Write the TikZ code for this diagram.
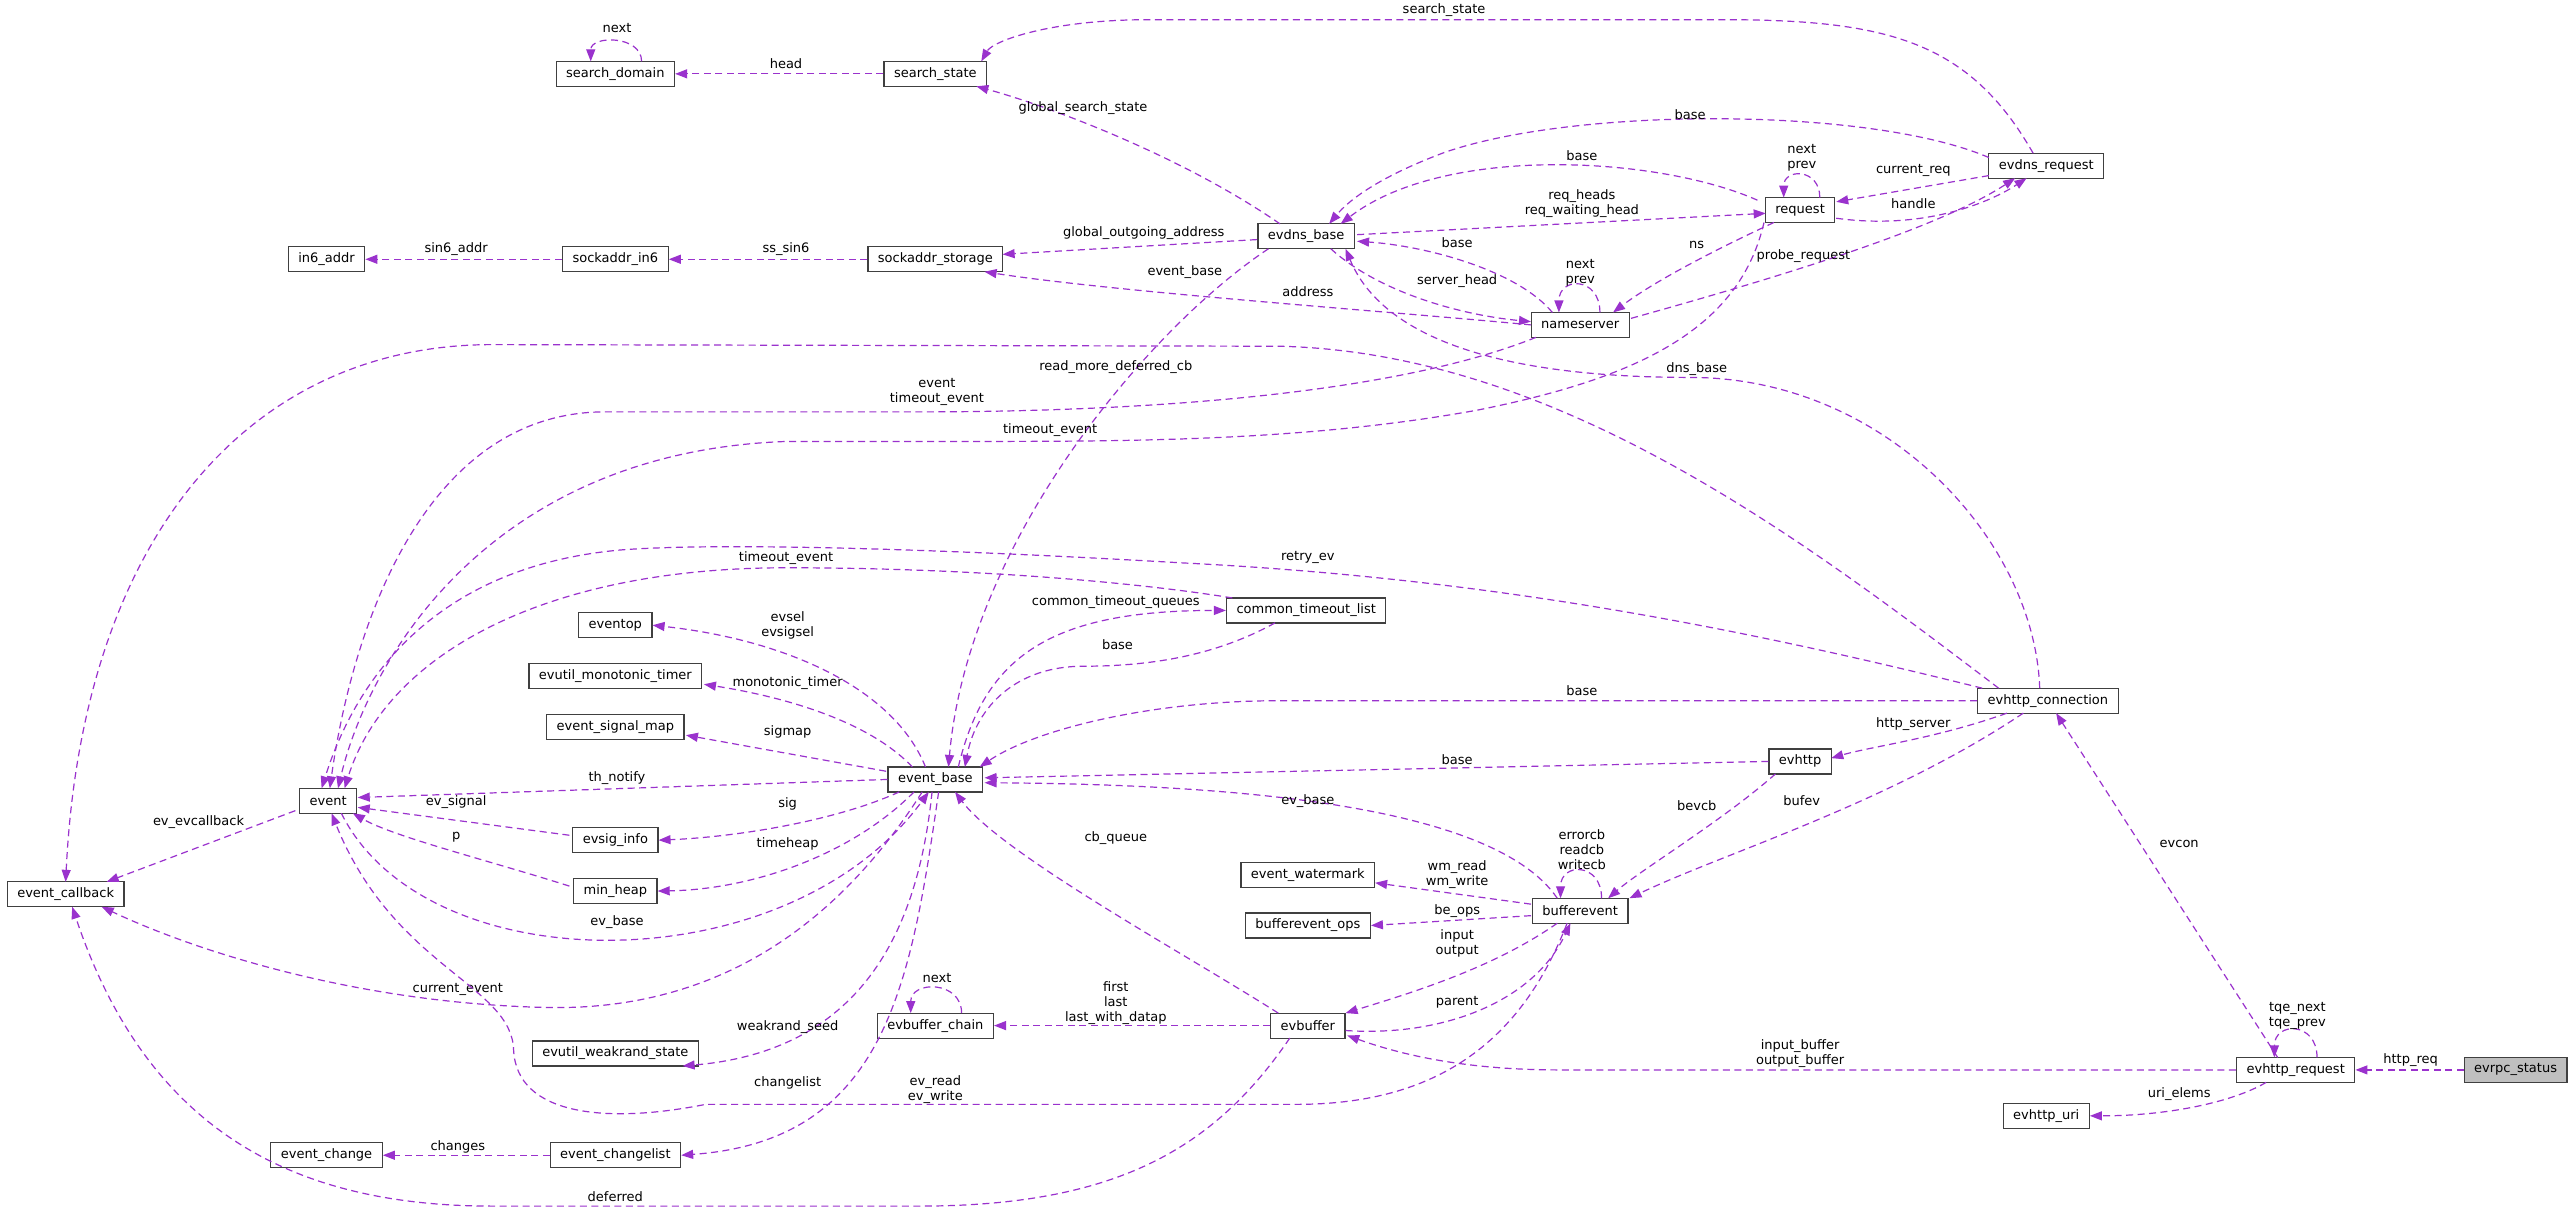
\documentclass[tikz,border=0pt]{standalone}
\usepackage{fontspec}
\setmainfont{DejaVu Sans}
\usetikzlibrary{arrows.meta,calc}
\definecolor{ec}{HTML}{9A32CD}
\begin{document}
\begin{tikzpicture}[x=1.641pt,y=-1.641pt,
  box/.style={draw=black!75,line width=1.2pt,fill=white,minimum height=25pt,inner xsep=10pt,inner ysep=0pt,font=\fontsize{13pt}{15pt}\selectfont},
  e/.style={draw=ec,line width=1.2pt,dash pattern=on 7pt off 4.5pt,-{Triangle[length=12pt,width=9pt]}},
  l/.style={font=\fontsize{13pt}{15pt}\selectfont,align=center,inner sep=0pt,text=black}]
\path[use as bounding box,fill=white] (0,0) rectangle (1568,739.2);
% nodes
\node[box] (sd) at (375,45) {search\_domain};
\node[box] (ss) at (570,45) {search\_state};
\node[box] (edb) at (796,144) {evdns\_base};
\node[box] (req) at (1097,128) {request};
\node[box] (edr) at (1247,101) {evdns\_request};
\node[box] (in6) at (199,158) {in6\_addr};
\node[box] (sin6) at (375,158) {sockaddr\_in6};
\node[box] (sst) at (570,158) {sockaddr\_storage};
\node[box] (ns) at (963,198) {nameserver};
\node[box] (ecb) at (40,545) {event\_callback};
\node[box] (ev) at (200,488) {event};
\node[box] (eop) at (375,381) {eventop};
\node[box] (emt) at (375,412) {evutil\_monotonic\_timer};
\node[box] (esm) at (375,443) {event\_signal\_map};
\node[box] (eb) at (570,475) {event\_base};
\node[box] (esi) at (375,512) {evsig\_info};
\node[box] (mh) at (375,543) {min\_heap};
\node[box] (ews) at (375,642) {evutil\_weakrand\_state};
\node[box] (ech) at (199,704) {event\_change};
\node[box] (ecl) at (375,704) {event\_changelist};
\node[box] (ctl) at (796,372) {common\_timeout\_list};
\node[box] (ehc) at (1248,427) {evhttp\_connection};
\node[box] (eh) at (1097,464) {evhttp};
\node[box] (ewm) at (797,533) {event\_watermark};
\node[box] (be) at (963,555) {bufferevent};
\node[box] (bo) at (797,564) {bufferevent\_ops};
\node[box] (ebc) at (570,625) {evbuffer\_chain};
\node[box] (ebf) at (797,625) {evbuffer};
\node[box] (ehr) at (1399,652) {evhttp\_request};
\node[box,fill=black!25] (ers) at (1533,652) {evrpc\_status};
\node[box] (uri) at (1247,680) {evhttp\_uri};
% edges
\draw[e] ($(sd)+(16,-7.6)$) .. controls +(0,-16) and +(0,-16) .. ($(sd)+(-15,-7.6)$) node[l,at={(376,17)}]{next};
\draw[e] (ss.west) -- (sd.east) node[l,at={(479,39)}]{head};
\draw[e] ($(edb)+(-16,-7.6)$) .. controls (720,95) and (640,65) .. ($(ss)+(25,7.6)$) node[l,at={(660,66)}]{global\_search\_state};
\draw[e] ($(edr)+(-8,-7.6)$) .. controls (1200,25) and (1150,12) .. (1050,12) -- (700,12) .. controls (640,12) and (605,25) .. ($(ss)+(28,-7.6)$) node[l,at={(880,6)}]{search\_state};
\draw[e] ($(edr)+(-35,-5)$) .. controls (1140,65) and (960,65) .. (880,93) .. controls (840,108) and (822,122) .. ($(edb)+(14,-7.6)$) node[l,at={(1030,70)}]{base};
\draw[e] ($(req)+(-26,-6)$) .. controls (1010,95) and (880,88) .. ($(edb)+(21,-7.6)$) node[l,at={(964,95)}]{base};
\draw[e] ($(edb)+(31,-1)$) -- ($(req)+(-21,2)$) node[l,at={(964,124)}]{req\_heads\\req\_waiting\_head};
\draw[e] ($(req)+(12,-7.6)$) .. controls +(0,-18) and +(0,-18) .. ($(req)+(-10,-7.6)$) node[l,at={(1098,96)}]{next\\prev};
\draw[e] ($(edr)+(-35,6)$) -- ($(req)+(22,-5)$) node[l,at={(1166,104)}]{current\_req};
\draw[e] ($(req)+(22,5)$) .. controls (1170,140) and (1210,125) .. ($(edr)+(-12,7.6)$) node[l,at={(1166,124)}]{handle};
\draw[e] ($(ns)+(31,-4)$) .. controls (1080,170) and (1180,140) .. ($(edr)+(-19,7.6)$) node[l,at={(1099,156)}]{probe\_request};
\draw[e] ($(req)+(-16,7.6)$) .. controls (1050,150) and (1010,170) .. ($(ns)+(20,-7.6)$) node[l,at={(1034,149)}]{ns};
\draw[e] ($(ns)+(-17,-7.6)$) .. controls (925,165) and (870,150) .. ($(edb)+(31,3)$) node[l,at={(888,148)}]{base};
\draw[e] ($(edb)+(15,7.6)$) .. controls (840,178) and (890,192) .. ($(ns)+(-30,-2)$) node[l,at={(888,171)}]{server\_head};
\draw[e] ($(ns)+(12,-7.6)$) .. controls +(0,-22) and +(0,-22) .. ($(ns)+(-13,-7.6)$) node[l,at={(963,166)}]{next\\prev};
\draw[e] ($(edb)+(-30,2)$) -- ($(sst)+(41,-3)$) node[l,at={(697,142)}]{global\_outgoing\_address};
\draw[e] ($(ns)+(-30,0)$) .. controls (850,190) and (680,178) .. ($(sst)+(30,7.6)$) node[l,at={(797,178)}]{address};
\draw[e] (sst.west) -- (sin6.east) node[l,at={(479,152)}]{ss\_sin6};
\draw[e] (sin6.west) -- (in6.east) node[l,at={(278,152)}]{sin6\_addr};
\draw[e] ($(edb)+(-23,7.6)$) .. controls (700,200) and (590,330) .. ($(eb)+(8,-7.6)$) node[l,at={(722,166)}]{event\_base};
\draw[e] ($(ns)+(-27,7.6)$) .. controls (850,240) and (700,251) .. (560,251) -- (370,251) .. controls (260,250) and (215,380) .. ($(ev)+(1,-7.6)$) node[l,at={(571,239)}]{event\\timeout\_event};
\draw[e] ($(req)+(-22,7.6)$) .. controls (1060,200) and (1000,230) .. (900,250) .. controls (800,268) and (700,269) .. (600,269) -- (480,269) .. controls (300,275) and (225,400) .. ($(ev)+(6,-7.6)$) node[l,at={(640,262)}]{timeout\_event};
\draw[e] ($(ehc)+(-5,-7.6)$) .. controls (1240,330) and (1150,230) .. (1030,230) .. controls (900,230) and (840,200) .. ($(edb)+(24,7.6)$) node[l,at={(1034,225)}]{dns\_base};
\draw[e] ($(ehc)+(-30,-7.6)$) .. controls (1100,330) and (950,215) .. (780,211) -- (300,210) .. controls (150,210) and (50,330) .. ($(ecb)+(0,-7.6)$) node[l,at={(680,224)}]{read\_more\_deferred\_cb};
\draw[e] ($(ehc)+(-40,-7.6)$) .. controls (1050,380) and (900,352) .. (720,343) .. controls (600,336) and (450,330) .. (380,335) .. controls (260,345) and (215,420) .. ($(ev)+(-4,-7.6)$) node[l,at={(797,340)}]{retry\_ev};
\draw[e] ($(ctl)+(-45,-7.6)$) .. controls (700,356) and (600,346) .. (479,346) .. controls (330,346) and (235,400) .. ($(ev)+(10,-7.6)$) node[l,at={(479,340)}]{timeout\_event};
\draw[e] ($(eb)+(14,-7.6)$) .. controls (600,400) and (640,372) .. (ctl.west) node[l,at={(680,367)}]{common\_timeout\_queues};
\draw[e] ($(ctl)+(-19,7.6)$) .. controls (740,400) and (700,406) .. (660,406) .. controls (620,406) and (595,430) .. ($(eb)+(18,-7.6)$) node[l,at={(681,393)}]{base};
\draw[e] ($(eb)+(-6,-7.6)$) .. controls (545,420) and (480,390) .. (eop.east) node[l,at={(480,381)}]{evsel\\evsigsel};
\draw[e] ($(eb)+(-14,-7.6)$) .. controls (530,440) and (480,425) .. ($(emt)+(54,5)$) node[l,at={(480,416)}]{monotonic\_timer};
\draw[e] ($(eb)+(-30,-5)$) -- ($(esm)+(43,5)$) node[l,at={(480,446)}]{sigmap};
\draw[e] (eb.west) -- ($(ev)+(18,-2)$) node[l,at={(376,474)}]{th\_notify};
\draw[e] ($(eb)+(-22,7.6)$) .. controls (510,500) and (450,510) .. (esi.east) node[l,at={(480,490)}]{sig};
\draw[e] ($(esi)+(-28,-3)$) -- ($(ev)+(18,4)$) node[l,at={(278,489)}]{ev\_signal};
\draw[e] ($(mh)+(-28,-3)$) .. controls (300,525) and (240,510) .. ($(ev)+(15,7.6)$) node[l,at={(278,510)}]{p};
\draw[e] ($(eb)+(-13,7.6)$) .. controls (520,520) and (460,542) .. (mh.east) node[l,at={(480,514)}]{timeheap};
\draw[e] ($(ev)+(8,7.6)$) .. controls (260,600) and (480,600) .. ($(eb)+(-4,7.6)$) node[l,at={(376,562)}]{ev\_base};
\draw[e] ($(ev)+(-20,6)$) -- ($(ecb)+(25,-7.6)$) node[l,at={(121,501)}]{ev\_evcallback};
\draw[e] ($(eb)+(-8,7.6)$) .. controls (500,580) and (420,615) .. (336,614) .. controls (220,612) and (120,580) .. ($(ecb)+(22,7.6)$) node[l,at={(279,603)}]{current\_event};
\draw[e] ($(eb)+(-2,7.6)$) .. controls (560,560) and (530,640) .. ($(ews)+(41,7.6)$) node[l,at={(480,626)}]{weakrand\_seed};
\draw[e] ($(eb)+(2,7.6)$) .. controls (555,600) and (540,695) .. (ecl.east) node[l,at={(480,660)}]{changelist};
\draw[e] (ecl.west) -- (ech.east) node[l,at={(279,699)}]{changes};
\draw[e] (ehc.west) -- (780,427) .. controls (700,427) and (630,445) .. ($(eb)+(27,-7.6)$) node[l,at={(964,421)}]{base};
\draw[e] ($(ehc)+(-25,7.6)$) .. controls (1180,450) and (1140,455) .. ($(eh)+(19,-2)$) node[l,at={(1166,441)}]{http\_server};
\draw[e] ($(ehc)+(-15,7.6)$) .. controls (1150,490) and (1050,520) .. ($(be)+(30,-7.6)$) node[l,at={(1098,488)}]{bufev};
\draw[e] (eh.west) -- ($(eb)+(30,-1)$) node[l,at={(888,463)}]{base};
\draw[e] ($(eh)+(-15,7.6)$) .. controls (1050,500) and (1000,530) .. ($(be)+(17,-7.6)$) node[l,at={(1034,491)}]{bevcb};
\draw[e] ($(be)+(-14,-7.6)$) .. controls (910,490) and (750,478) .. ($(eb)+(30,2)$) node[l,at={(797,488)}]{ev\_base};
\draw[e] ($(be)+(13,-7.6)$) .. controls +(0,-22) and +(0,-22) .. ($(be)+(-12,-7.6)$) node[l,at={(964,518)}]{errorcb\\readcb\\writecb};
\draw[e] ($(be)+(-30,-4)$) -- ($(ewm)+(41,5)$) node[l,at={(888,533)}]{wm\_read\\wm\_write};
\draw[e] ($(be)+(-30,3)$) -- (bo.east) node[l,at={(888,555)}]{be\_ops};
\draw[e] ($(be)+(-14,7.6)$) .. controls (910,590) and (860,605) .. ($(ebf)+(23,-7.6)$) node[l,at={(888,575)}]{input\\output};
\draw[e] ($(ebf)+(23,3)$) .. controls (880,632) and (935,610) .. ($(be)+(-6,7.6)$) node[l,at={(888,611)}]{parent};
\draw[e] ($(ebf)+(-18,-7.6)$) .. controls (720,580) and (610,520) .. ($(eb)+(12,7.6)$) node[l,at={(680,511)}]{cb\_queue};
\draw[e] (ebf.west) -- (ebc.east) node[l,at={(680,611)}]{first\\last\\last\_with\_datap};
\draw[e] ($(ebc)+(16,-7.6)$) .. controls +(0,-20) and +(0,-20) .. ($(ebc)+(-15,-7.6)$) node[l,at={(571,596)}]{next};
\draw[e] ($(be)+(-8,7.6)$) .. controls (925,640) and (870,673) .. (790,673) -- (430,673) .. controls (370,685) and (315,680) .. (313,640) .. controls (312,600) and (240,590) .. ($(ev)+(2,7.6)$) node[l,at={(570,664)}]{ev\_read\\ev\_write};
\draw[e] ($(ebf)+(-11,7.6)$) .. controls (740,700) and (680,735) .. (560,735) -- (300,735) .. controls (180,735) and (90,690) .. ($(ecb)+(4,7.6)$) node[l,at={(375,729)}]{deferred};
\draw[e] (ehr.west) -- (950,652) .. controls (900,652) and (860,645) .. ($(ebf)+(24,6)$) node[l,at={(1097,642)}]{input\_buffer\\output\_buffer};
\draw[e] ($(ehr)+(-11,-7.6)$) -- ($(ehc)+(5,7.6)$) node[l,at={(1328,514)}]{evcon};
\draw[e] ($(ehr)+(13,-7.6)$) .. controls +(0,-22) and +(0,-22) .. ($(ehr)+(-13,-7.6)$) node[l,at={(1400,619)}]{tqe\_next\\tqe\_prev};
\draw[e] (ers.west) -- (ehr.east) node[l,at={(1469,646)}]{http\_req};
\draw[e] ($(ehr)+(-18,7.6)$) .. controls (1360,672) and (1320,680) .. (uri.east) node[l,at={(1328,667)}]{uri\_elems};
\end{tikzpicture}
\end{document}
